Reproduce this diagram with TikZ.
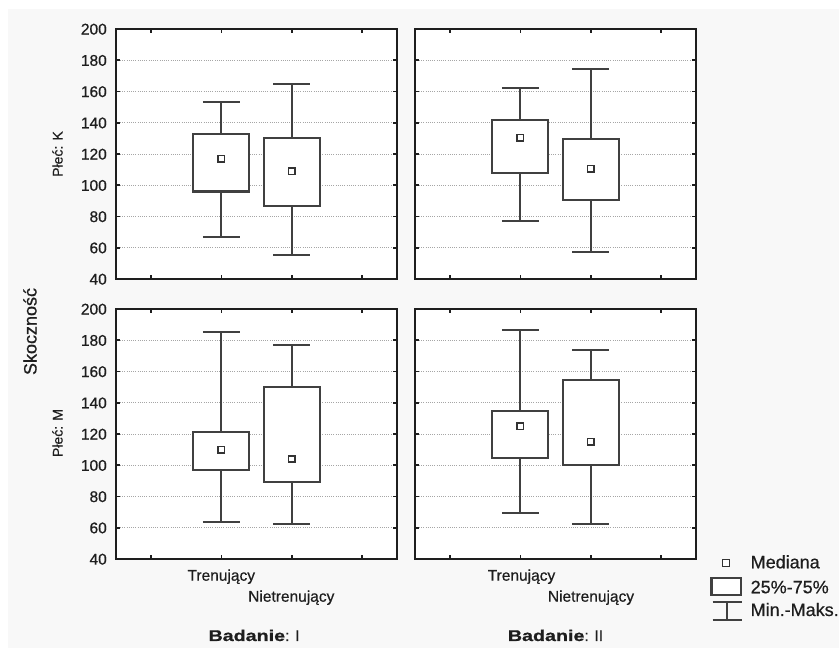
\documentclass[tikz,border=0pt]{standalone}
\usepackage{fontspec}
\setmainfont{Liberation Sans}[FakeBold=0.6]
\newfontfamily\heavyfont{Liberation Sans Bold}[FakeBold=0.8]
\definecolor{bgc}{RGB}{248,248,248}
\definecolor{ink}{RGB}{30,30,30}
\newcommand\plotpanel[2]{%
  \begin{scope}[shift={(#1,#2)}]
    \fill[white] (0,0) rectangle (281,250);
    \foreach \v in {60,80,...,180}{%
      \draw[gridln] (4,{(\v-40)*1.5625}) -- (277,{(\v-40)*1.5625});
      \draw[tickln] (0,{(\v-40)*1.5625}) -- (4,{(\v-40)*1.5625});
      \draw[tickln] (281,{(\v-40)*1.5625}) -- (277,{(\v-40)*1.5625});
    }
    \foreach \t in {35.1,105.4,175.6,245.9}{%
      \draw[tickln] (\t,0) -- (\t,4);
      \draw[tickln] (\t,250) -- (\t,246);
    }
  \end{scope}}
\newcommand\plotframe[2]{%
  \draw[frame] (#1,#2) rectangle ++(281,250);}
% #1 xc, #2 min, #3 q1, #4 med, #5 q3, #6 max
\newcommand\bw[6]{%
  \draw[whisk] ({#1},{(#2-40)*1.5625}) -- ({#1},{(#6-40)*1.5625});
  \draw[whisk] ({#1-18.5},{(#2-40)*1.5625}) -- ({#1+18.5},{(#2-40)*1.5625});
  \draw[whisk] ({#1-18.5},{(#6-40)*1.5625}) -- ({#1+18.5},{(#6-40)*1.5625});
  \draw[boxst] ({#1-28},{(#3-40)*1.5625}) rectangle ({#1+28},{(#5-40)*1.5625});
  \draw[medst] ({#1-3.2},{(#4-40)*1.5625-3.2}) rectangle ++(6.4,6.4);}
\begin{document}
\begin{tikzpicture}[x=1bp,y=1bp,
  frame/.style={line width=2.2bp, draw=ink},
  gridln/.style={line width=0.9bp, draw=black!35, dash pattern=on 1bp off 1.2bp},
  tickln/.style={line width=1.8bp, draw=ink},
  whisk/.style={line width=2bp, draw=black!75},
  boxst/.style={line width=2.1bp, draw=black!75, fill=white},
  medst/.style={line width=1.7bp, draw=black!80, fill=white},
  ticklab/.style={anchor=base east, inner sep=0pt, text=ink, font=\fontsize{15.5bp}{16bp}\selectfont},
  catlab/.style={anchor=base, inner sep=0pt, text=ink, font=\fontsize{15.5bp}{16bp}\selectfont},
  facetlab/.style={rotate=90, inner sep=0pt, text=ink, font=\fontsize{14bp}{15bp}\selectfont},
  leglab/.style={anchor=base west, inner sep=0pt, text=ink, font=\fontsize{18bp}{19bp}\selectfont},
  studylab/.style={anchor=base, inner sep=0pt, text=ink, font=\fontsize{15.5bp}{16bp}\selectfont}]
\useasboundingbox (0,0) rectangle (839,648);
\fill[white] (0,0) rectangle (839,648);
\fill[bgc] (8,0) rectangle (839,639);
% panels
\plotpanel{116}{369}
\plotpanel{415}{369}
\plotpanel{116}{89}
\plotpanel{415}{89}
% top-left
\begin{scope}[shift={(116,369)}]
  \bw{105.4}{67}{96}{117}{133}{153}
  \bw{175.6}{55.3}{87}{109}{130}{165}
\end{scope}
% top-right
\begin{scope}[shift={(415,369)}]
  \bw{105.4}{77}{108}{130.5}{142}{162.5}
  \bw{175.6}{57.5}{90.5}{110.5}{129.5}{174.5}
\end{scope}
% bottom-left
\begin{scope}[shift={(116,89)}]
  \bw{105.4}{63.5}{97}{110}{121}{185.5}
  \bw{175.6}{62.5}{89}{104}{150}{177}
\end{scope}
% bottom-right
\begin{scope}[shift={(415,89)}]
  \bw{105.4}{69.5}{104.5}{125}{135}{186.5}
  \bw{175.6}{62.5}{100}{115}{154.5}{174}
\end{scope}
\plotframe{116}{369}
\plotframe{415}{369}
\plotframe{116}{89}
\plotframe{415}{89}
% y tick labels
\foreach \v [count=\i] in {40,60,...,200}{%
  \node[ticklab] (ta\i) at (107,{369+(\v-40)*1.5625-5.55}) {\v};
  \node[ticklab] (tb\i) at (107,{89+(\v-40)*1.5625-5.55}) {\v};
}
% facet and axis labels
\node[facetlab] (plk) at (57.5,494) {Płeć: K};
\node[facetlab] (plm) at (57.5,215) {Płeć: M};
\node[rotate=90, inner sep=0pt, text=ink, font=\fontsize{18bp}{19bp}\selectfont] (sk) at (30,316.5) {Skoczność};
% category labels
\node[catlab] (t1) at (221.3,67.3) {Trenujący};
\node[catlab] (n1) at (291.3,46.3) {Nietrenujący};
\node[catlab] (t2) at (521.5,67.3) {Trenujący};
\node[catlab] (n2) at (591,46.3) {Nietrenujący};
\node[studylab] (b1) at (254,7) {\scalebox{1.27}[1]{\heavyfont Badanie}: I};
\node[studylab] (b2) at (555.5,7) {\scalebox{1.27}[1]{\heavyfont Badanie}: II};
% legend
\draw[medst] (722.5,81.5) rectangle (729.5,88.5);
\draw[boxst] (711.5,53) rectangle (741,70);
\draw[whisk] (712.7,46.3) -- (742,46.3);
\draw[whisk] (712.7,28) -- (742,28);
\draw[whisk] (727,28) -- (727,46.3);
\node[leglab] (lm) at (750.5,79.7) {Mediana};
\node[leglab] (lb) at (750.5,54.7) {25\%-75\%};
\node[leglab] (lw) at (750.5,32) {Min.-Maks.};
\end{tikzpicture}
\end{document}
